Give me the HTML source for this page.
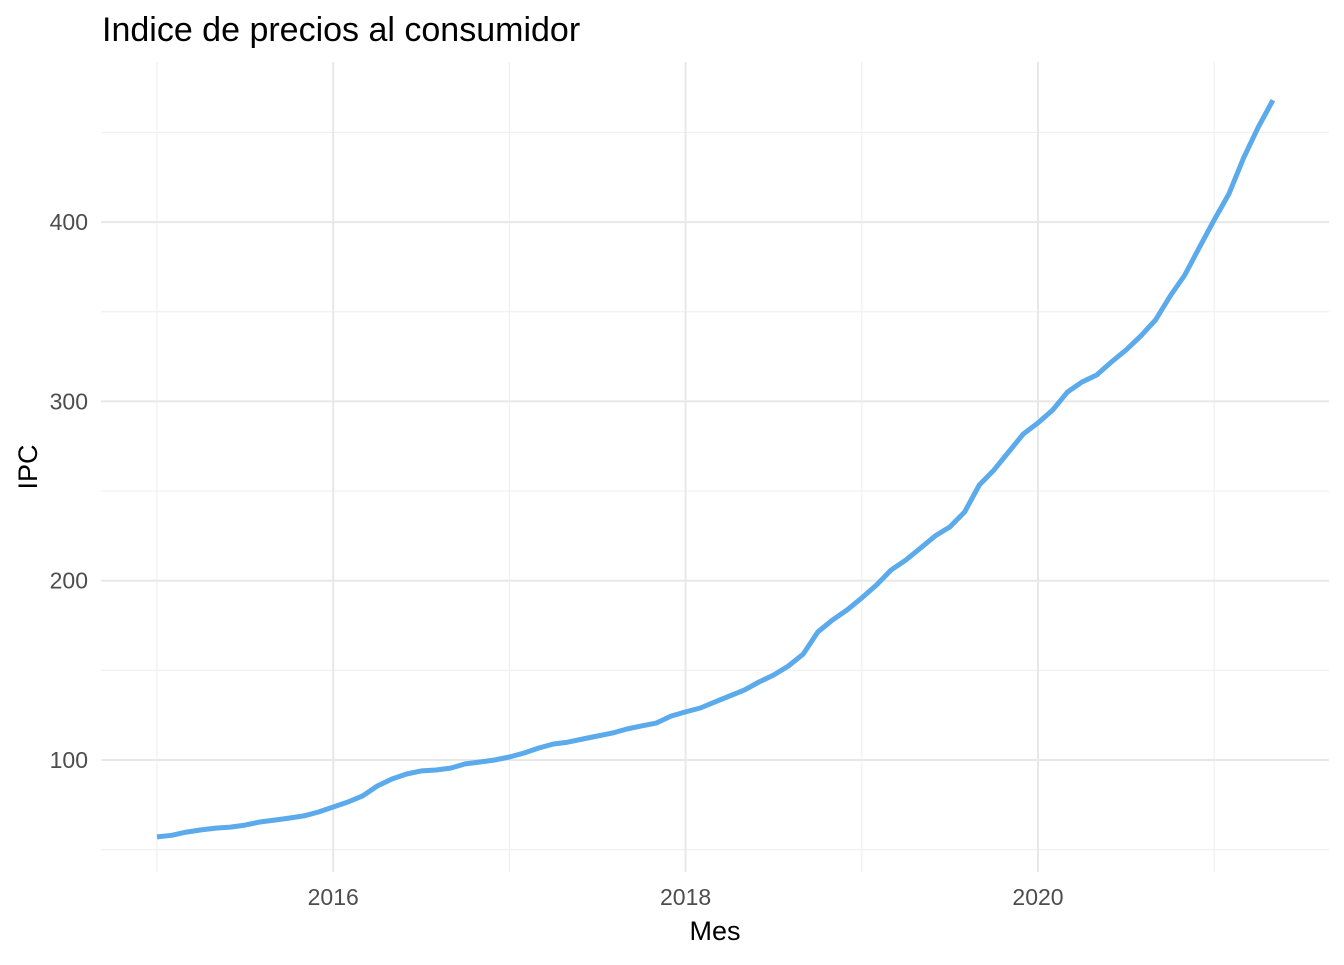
<!DOCTYPE html>
<html><head><meta charset="utf-8"><style>
body{margin:0;background:#fff}
svg text{font-family:"Liberation Sans",sans-serif}
</style></head><body>
<svg id="chart" width="1344" height="960">
<text x="102" y="41" font-size="34" fill="#000">Indice de precios al consumidor</text>
<g id="grid"></g><g id="axes"></g>
<text x="715" y="940" font-size="27" text-anchor="middle" fill="#000">Mes</text>
<text transform="translate(37,467) rotate(-90)" font-size="27" text-anchor="middle" fill="#000">IPC</text>
</svg>
<script>
const startYear = 2015;
const ipcValues = [57.1,58,59.8,61,62,62.6,63.7,65.4,66.5,67.6,68.8,71,
73.8,76.6,80,85.5,89.4,92.2,93.9,94.4,95.5,97.8,98.9,100,
101.7,103.9,106.7,108.9,110,111.7,113.4,115,117.3,119,120.6,124.5,
126.8,129,132.4,135.7,139,143.5,147.4,152.4,159,171.4,178,183.7,
190.4,197.6,206,211.5,218.2,225,230,238.3,253.4,261.7,271.8,281.8,
288,295.2,305.2,310.8,314.7,322,328.7,336.5,345.4,358.8,370.5,386,
401.2,415.7,435.8,453,468];
const yTicks = [100,200,300,400];
const yMinor = [50,150,250,350,450];
const xTicks = [2016,2018,2020];
const xMinor = [2015,2017,2019,2021];

const ns="http://www.w3.org/2000/svg";
const L=101,R=1329,T=62,B=872;
const x=yr=>157+(yr-2015)*176.2;
const y=v=>760-(v-100)*1.793;
const grid=document.getElementById('grid');
function line(x1,y1,x2,y2,c,w,name){const l=document.createElementNS(ns,'line');
l.setAttribute('x1',x1);l.setAttribute('y1',y1);l.setAttribute('x2',x2);l.setAttribute('y2',y2);
l.setAttribute('stroke',c);l.setAttribute('stroke-width',w);


grid.appendChild(l);}
function text(tx,ty,s,anchor,name){const t=document.createElementNS(ns,'text');
t.setAttribute('x',tx);t.setAttribute('y',ty);t.setAttribute('font-size','23');t.setAttribute('fill','#4d4d4d');
t.setAttribute('text-anchor',anchor);t.textContent=s;


document.getElementById('axes').appendChild(t);}
yMinor.forEach(v=>line(L,y(v),R,y(v),'#f0f0f0',1.2,'y-minor-gridline'));
xMinor.forEach(v=>line(x(v),T,x(v),B,'#f0f0f0',1.2,'x-minor-gridline'));
yTicks.forEach(v=>{line(L,y(v),R,y(v),'#e8e8e8',2,'y-gridline');text(88,y(v)+8,String(v),'end','y-tick-label');});
xTicks.forEach(v=>{line(x(v),T,x(v),B,'#e8e8e8',2,'x-gridline');text(x(v),905,String(v),'middle','x-tick-label');});
const p=document.createElementNS(ns,'path');
p.setAttribute('d',ipcValues.map((v,i)=>(i?'L':'M')+x(startYear+i/12).toFixed(1)+','+y(v).toFixed(1)).join(''));
p.setAttribute('fill','none');p.setAttribute('stroke','#5aaaec');p.setAttribute('stroke-width','5');p.setAttribute('stroke-linejoin','round');


document.getElementById('chart').appendChild(p);
</script>
</body></html>
